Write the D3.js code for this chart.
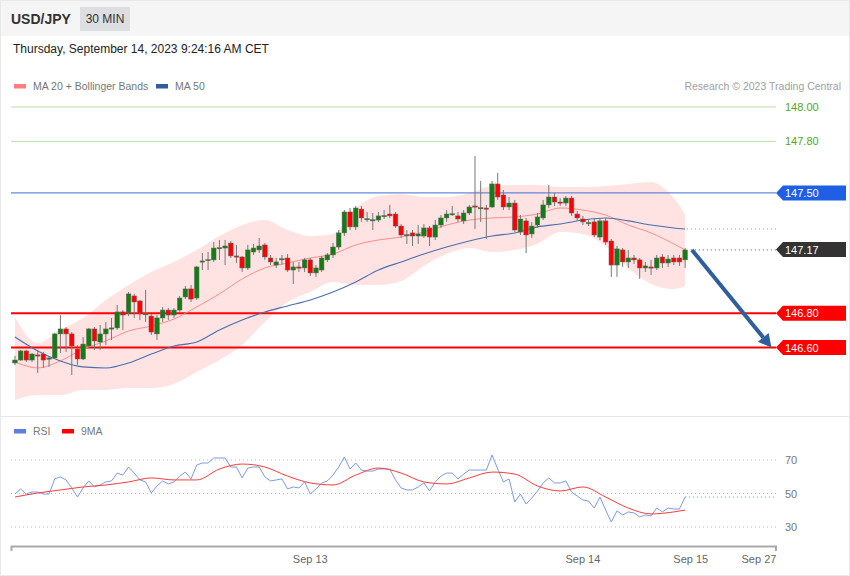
<!DOCTYPE html>
<html><head><meta charset="utf-8">
<script src="https://cdn.jsdelivr.net/npm/d3@7"></script>
<style>body{margin:0;background:#fff}svg{display:block;font-family:"Liberation Sans",Arial,sans-serif}</style>
</head><body><svg id="c" width="850" height="576"></svg>
<script>
// ---- data ----
const open = [
146.510,146.527,146.580,146.527,146.557,146.562,146.533,146.539,146.679,146.708,
146.679,146.591,146.533,146.609,146.708,146.632,146.679,146.708,146.714,146.807,
146.801,146.900,146.871,146.793,146.783,146.679,146.772,146.818,146.789,146.818,
146.894,146.941,146.888,147.098,147.110,147.110,147.179,147.179,147.208,147.133,
147.127,147.063,147.156,147.168,147.197,147.121,147.080,147.115,147.121,147.051,
147.069,147.063,147.110,147.034,147.051,147.110,147.139,147.185,147.267,147.389,
147.302,147.406,147.348,147.342,147.342,147.366,147.377,147.377,147.307,147.255,
147.267,147.249,147.249,147.296,147.243,147.313,147.354,147.377,147.366,147.337,
147.383,147.424,147.412,147.412,147.418,147.552,147.488,147.418,147.441,147.272,
147.337,147.261,147.313,147.354,147.430,147.476,147.447,147.441,147.470,147.377,
147.348,147.325,147.331,147.243,147.337,147.220,147.080,147.168,147.098,147.121,
147.110,147.063,147.069,147.063,147.127,147.092,147.121,147.121,147.110];
const high = [
146.551,146.586,146.586,146.568,146.586,146.574,146.545,146.685,146.789,146.719,
146.690,146.615,146.661,146.714,146.719,146.731,146.749,146.772,146.848,146.818,
146.923,146.912,146.877,146.935,146.795,146.789,146.836,146.830,146.830,146.900,
146.958,146.964,147.075,147.150,147.156,147.214,147.226,147.226,147.220,147.197,
147.133,147.197,147.203,147.238,147.208,147.139,147.121,147.139,147.144,147.098,
147.098,147.121,147.121,147.080,147.133,147.150,147.208,147.284,147.400,147.412,
147.424,147.424,147.389,147.383,147.389,147.400,147.430,147.389,147.319,147.284,
147.284,147.313,147.319,147.307,147.342,147.371,147.400,147.424,147.389,147.400,
147.430,147.715,147.569,147.430,147.569,147.616,147.517,147.476,147.459,147.371,
147.354,147.331,147.383,147.459,147.546,147.499,147.470,147.482,147.482,147.395,
147.366,147.348,147.354,147.354,147.354,147.232,147.191,147.179,147.168,147.139,
147.121,147.098,147.110,147.139,147.144,147.139,147.139,147.139,147.179];
const low = [
146.498,146.522,146.516,146.516,146.452,146.481,146.487,146.533,146.568,146.574,
146.440,146.498,146.527,146.597,146.586,146.586,146.615,146.644,146.702,146.702,
146.783,146.772,146.760,146.749,146.673,146.644,146.749,146.760,146.772,146.807,
146.882,146.865,146.877,147.051,147.051,147.098,147.110,147.080,147.121,147.092,
147.040,147.051,147.139,147.150,147.110,147.080,147.063,147.080,147.040,146.970,
147.040,147.040,147.016,147.011,147.040,147.098,147.121,147.168,147.249,147.284,
147.284,147.331,147.331,147.284,147.331,147.348,147.354,147.296,147.238,147.203,
147.191,147.203,147.238,147.191,147.226,147.296,147.331,147.366,147.331,147.319,
147.371,147.290,147.331,147.232,147.412,147.459,147.400,147.400,147.272,147.255,
147.150,147.238,147.296,147.342,147.412,147.424,147.424,147.424,147.366,147.337,
147.313,147.307,147.243,147.226,147.197,147.011,147.011,147.069,147.063,147.086,
146.999,147.040,147.022,147.051,147.063,147.069,147.080,147.075,147.063];
const close = [
146.527,146.580,146.527,146.562,146.551,146.527,146.539,146.679,146.708,146.679,
146.609,146.533,146.620,146.708,146.638,146.679,146.708,146.714,146.807,146.789,
146.912,146.865,146.801,146.797,146.690,146.772,146.818,146.789,146.818,146.888,
146.941,146.882,147.069,147.104,147.112,147.179,147.181,147.191,147.133,147.127,
147.063,147.168,147.179,147.191,147.127,147.098,147.098,147.117,147.051,147.069,
147.067,147.110,147.034,147.063,147.121,147.139,147.185,147.267,147.389,147.302,
147.412,147.354,147.350,147.344,147.366,147.368,147.366,147.307,147.255,147.257,
147.249,147.261,147.296,147.243,147.313,147.354,147.377,147.379,147.348,147.383,
147.418,147.418,147.414,147.410,147.552,147.476,147.418,147.441,147.284,147.348,
147.255,147.307,147.360,147.430,147.476,147.447,147.445,147.470,147.383,147.354,
147.331,147.327,147.255,147.337,147.214,147.080,147.174,147.098,147.121,147.110,
147.063,147.075,147.067,147.121,147.092,147.115,147.098,147.098,147.168];

// indicator samples (candle index of each sample)
const sampleIdx = [0,4,8,12,16,20,24,28,32,36,40,44,48,52,56,60,64,68,72,76,80,84,88,92,96,100,104,108,112,116,118];
const ma20 = [146.516,146.481,146.522,146.591,146.638,146.696,146.725,146.766,146.836,146.912,146.999,147.063,147.092,147.121,147.144,147.197,147.226,147.243,147.272,147.313,147.342,147.354,147.360,147.377,147.412,147.400,147.371,147.313,147.267,147.203,147.168];
const ma50 = [146.661,146.580,146.522,146.487,146.481,146.510,146.562,146.609,146.632,146.702,146.760,146.807,146.842,146.877,146.923,146.981,147.051,147.098,147.144,147.185,147.220,147.249,147.267,147.302,147.319,147.342,147.354,147.337,147.313,147.296,147.290];
const bbUpper = [146.778,146.626,146.702,146.772,146.877,146.964,147.040,147.098,147.168,147.249,147.313,147.342,147.284,147.249,147.261,147.412,147.482,147.494,147.476,147.476,147.499,147.540,147.546,147.546,147.534,147.534,147.540,147.552,147.563,147.470,147.377];
const bbLower = [146.295,146.324,146.324,146.353,146.353,146.364,146.364,146.388,146.458,146.527,146.615,146.749,146.865,146.923,146.981,146.964,146.964,146.987,147.075,147.144,147.179,147.156,147.168,147.203,147.272,147.261,147.191,147.063,146.970,146.941,146.958];

const rsi = [
49.7,52.7,49.7,50.9,50.9,49.7,49.7,58.7,59.9,58.1,
53.3,47.9,53.3,57.5,53.9,55.1,56.9,57.5,62.2,61.0,
65.8,62.2,58.1,56.9,50.3,54.5,57.5,55.7,56.9,60.4,
62.8,58.7,67.0,68.2,68.2,71.2,71.2,71.2,65.8,65.8,
59.3,65.2,65.8,65.8,59.9,57.5,58.1,58.7,52.7,53.9,
53.3,56.9,49.7,52.7,56.3,57.5,61.0,65.8,71.8,64.6,
68.2,64.0,63.4,63.4,64.6,64.6,64.6,58.1,53.3,52.1,
52.1,53.9,56.3,51.5,56.9,60.4,62.2,62.2,58.7,61.6,
64.0,64.0,64.0,64.0,73.0,64.6,56.9,58.7,44.9,49.7,
43.7,47.3,51.5,56.3,59.3,56.3,56.3,57.5,50.9,48.5,
46.1,45.5,41.3,47.9,40.1,33.0,39.6,37.2,39.0,38.4,
36.0,37.2,36.6,41.3,39.0,41.3,40.7,40.7,47.9];
const rsiMA = [47.9,50.3,52.1,53.9,55.1,56.9,59.3,58.1,58.1,64.6,67.6,65.8,60.4,56.3,55.1,61.0,65.2,62.2,56.9,55.7,59.3,62.8,61.6,54.5,51.5,53.9,47.9,41.3,37.8,39.0,40.1];

const levels = [
  {v:148.00, kind:"text", color:"#56a61c", line:"#b9e0a2"},
  {v:147.80, kind:"text", color:"#56a61c", line:"#b9e0a2"},
  {v:147.50, kind:"box", color:"#1f5fe6", line:"#3f6fd6"},
  {v:147.17, kind:"box", color:"#333333", line:null},
  {v:146.80, kind:"box", color:"#ff0000", line:"#ff0000"},
  {v:146.60, kind:"box", color:"#ff0000", line:"#ff0000"}
];
const arrowFrom = {i:119.2, v:147.168};
const arrowTo = {i:133.2, v:146.60};
const rsiTicks = [70,50,30];
const xTickIdx = [52,100,119,131];
const xTickLabels = ["Sep 13","Sep 14","Sep 15","Sep 27"];

// ---- drawing ----
const svg = d3.select("#c");
const x = d3.scaleLinear().domain([-0.7,134]).range([11,776]);
const y = d3.scaleLinear().domain([146.6,148.0]).range([347.5,107]);
const yr = d3.scaleLinear().domain([30,70]).range([527,460]);

// frame & header
svg.append("rect").attr("x",0.5).attr("y",0.5).attr("width",849).attr("height",575).attr("fill","#fff").attr("stroke","#e8e8e8");
svg.append("rect").attr("x",1).attr("y",1).attr("width",848).attr("height",35).attr("fill","#f5f5f5");
svg.append("text").attr("x",11).attr("y",24).attr("font-size",14).attr("font-weight","bold").attr("fill","#333").text("USD/JPY");
svg.append("rect").attr("x",80).attr("y",7).attr("width",50).attr("height",24).attr("fill","#dcdee2");
svg.append("text").attr("x",105).attr("y",23).attr("text-anchor","middle").attr("font-size",12).attr("fill","#333").text("30 MIN");
svg.append("text").attr("x",13).attr("y",53).attr("font-size",12).attr("fill","#222").text("Thursday, September 14, 2023 9:24:16 AM CET");
svg.append("line").attr("x1",1).attr("x2",849).attr("y1",416.5).attr("y2",416.5).attr("stroke","#e6e6e6");

// legends
function legend(xp, yp, col, label){
  svg.append("rect").attr("x",xp).attr("y",yp-2).attr("width",12).attr("height",4.5).attr("fill",col);
  svg.append("text").attr("x",xp+19).attr("y",yp+4).attr("font-size",10.5).attr("fill","#777").text(label);
}
legend(14,86,"#ff7f7f","MA 20 + Bollinger Bands");
legend(156,86,"#2f5e9e","MA 50");
legend(14,431,"#5b7fe0","RSI");
legend(62,431,"#ff0000","9MA");
svg.append("text").attr("x",841).attr("y",90).attr("text-anchor","end").attr("font-size",10.5).attr("fill","#a0a0a0").text("Research \u00a9 2023 Trading Central");

// bollinger band area
const pts = sampleIdx.map((d,k)=>({i:d,u:bbUpper[k],l:bbLower[k],m:ma20[k],s:ma50[k],r:rsiMA[k]}));
svg.append("path").datum(pts)
  .attr("d", d3.area().x(d=>x(d.i)).y0(d=>y(d.l)).y1(d=>y(d.u)).curve(d3.curveMonotoneX))
  .attr("fill","#ffe3e3");

// level lines
levels.forEach(L=>{
  if(L.line){
    const w = L.line==="#ff0000"?2:1;
    svg.append("line").attr("x1",11).attr("x2",776).attr("y1",y(L.v)).attr("y2",y(L.v)).attr("stroke",L.line).attr("stroke-width",w);
  }
});
// dotted extension for last price and MA50
svg.append("line").attr("x1",x(119)).attr("x2",776).attr("y1",y(147.168)).attr("y2",y(147.168)).attr("stroke","#555").attr("stroke-dasharray","1,3");
svg.append("line").attr("x1",x(118.3)).attr("x2",776).attr("y1",y(ma50[ma50.length-1])).attr("y2",y(ma50[ma50.length-1])).attr("stroke","#7d90b8").attr("stroke-dasharray","1,3");

// MA lines
svg.append("path").datum(pts).attr("d",d3.line().x(d=>x(d.i)).y(d=>y(d.m)).curve(d3.curveMonotoneX)).attr("fill","none").attr("stroke","#ff8c8c").attr("stroke-width",1);
svg.append("path").datum(pts).attr("d",d3.line().x(d=>x(d.i)).y(d=>y(d.s)).curve(d3.curveMonotoneX)).attr("fill","none").attr("stroke","#4a6eae").attr("stroke-width",1.1);

// candles
const candles = open.map((o,i)=>({i,o,h:high[i],l:low[i],c:close[i]}));
const g = svg.append("g");
g.selectAll("line.w").data(candles).enter().append("line")
  .attr("x1",d=>x(d.i)).attr("x2",d=>x(d.i)).attr("y1",d=>y(d.h)).attr("y2",d=>y(d.l))
  .attr("stroke","#777").attr("stroke-width",1);
const bw = 4.6;
g.selectAll("rect.b").data(candles).enter().append("rect")
  .attr("x",d=>x(d.i)-bw/2).attr("width",bw)
  .attr("y",d=>y(Math.max(d.o,d.c)))
  .attr("height",d=>Math.max(1.2,Math.abs(y(d.o)-y(d.c))))
  .attr("fill",d=>d.c>=d.o?"#137d13":"#ff0000")
  .attr("stroke","#666").attr("stroke-width",0.5);

// right labels
levels.forEach(L=>{
  const yy = y(L.v);
  if(L.kind==="text"){
    svg.append("text").attr("x",785).attr("y",yy+4).attr("font-size",11).attr("fill",L.color).text(L.v.toFixed(2));
  } else {
    svg.append("path").attr("d",`M776,${yy}L783,${yy-7.5}L846,${yy-7.5}L846,${yy+7.5}L783,${yy+7.5}Z`).attr("fill",L.color);
    svg.append("text").attr("x",785).attr("y",yy+4).attr("font-size",11).attr("fill","#fff").text(L.v.toFixed(2));
  }
});

// arrow
(function(){
  const x0=x(arrowFrom.i), y0=y(arrowFrom.v), x1=x(arrowTo.i), y1=y(arrowTo.v);
  const ang=Math.atan2(y1-y0,x1-x0), hl=13, hw=7;
  const bx=x1-hl*Math.cos(ang), by=y1-hl*Math.sin(ang);
  svg.append("line").attr("x1",x0).attr("y1",y0).attr("x2",bx).attr("y2",by).attr("stroke","#2e5e9c").attr("stroke-width",4);
  const px=-Math.sin(ang), py=Math.cos(ang);
  svg.append("path").attr("d",`M${x1},${y1}L${bx+px*hw},${by+py*hw}L${bx-px*hw},${by-py*hw}Z`).attr("fill","#2e5e9c");
})();

// RSI panel
rsiTicks.forEach(t=>{
  svg.append("line").attr("x1",11).attr("x2",776).attr("y1",yr(t)).attr("y2",yr(t)).attr("stroke","#bdbdbd").attr("stroke-dasharray","1,3");
  svg.append("text").attr("x",785).attr("y",yr(t)+4).attr("font-size",11).attr("fill","#777").text(t);
});
svg.append("line").attr("x1",x(118)).attr("x2",776).attr("y1",yr(rsi[rsi.length-1])).attr("y2",yr(rsi[rsi.length-1])).attr("stroke","#6f8fe6").attr("stroke-dasharray","1,3");
svg.append("path").datum(rsi).attr("d",d3.line().x((d,i)=>x(i)).y(d=>yr(d))).attr("fill","none").attr("stroke","#7b9ae6").attr("stroke-width",1);
svg.append("path").datum(pts).attr("d",d3.line().x(d=>x(d.i)).y(d=>yr(d.r)).curve(d3.curveMonotoneX)).attr("fill","none").attr("stroke","#ff3b3b").attr("stroke-width",1);

// x axis
const ax = svg.append("g");
ax.append("path").attr("d","M11.5,551V546.5H776V551").attr("fill","none").attr("stroke","#a9a9a9").attr("stroke-width",2);
xTickIdx.forEach((t,k)=>{
  ax.append("text").attr("x",x(t)).attr("y",563).attr("text-anchor","middle").attr("font-size",11).attr("fill","#666").text(xTickLabels[k]);
});
</script></body></html>
